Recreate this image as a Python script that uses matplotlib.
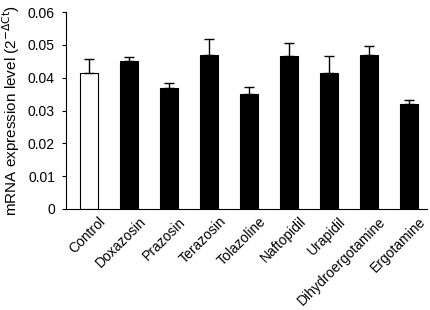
import numpy as np
from matplotlib import pyplot as plt
from matplotlib import transforms

plt.rcParams['font.family'] = ['Liberation Sans', 'DejaVu Sans']

farmacos = ['Control', 'Doxazosin', 'Prazosin', 'Terazosin', 'Tolazoline',
            'Naftopidil', 'Urapidil', 'Dihydroergotamine', 'Ergotamine']
expresion = [0.0415, 0.0451, 0.0369, 0.0470, 0.0350, 0.0466, 0.0415, 0.0470, 0.0320]
error = [0.0042, 0.0011, 0.0015, 0.0048, 0.0021, 0.0040, 0.0051, 0.0027, 0.0011]
colores = ['white'] + ['black'] * 8

fig = plt.figure(figsize=(4.3, 3.1), dpi=100)
ax = fig.add_axes([0.1535, 0.326, 0.8395, 0.635])

x = np.arange(len(farmacos))
ax.bar(x, expresion, width=0.47, color=colores, edgecolor='black', linewidth=0.8,
       yerr=[np.zeros(len(error)), error], error_kw=dict(ecolor='black', elinewidth=1.0,
                                                         capsize=3.5, capthick=1.0))

ax.set_xlim(-0.575, 8.45)
ax.set_ylim(0, 0.06)
ax.set_yticks([0, 0.01, 0.02, 0.03, 0.04, 0.05, 0.06])
ax.set_yticklabels(['0', '0.01', '0.02', '0.03', '0.04', '0.05', '0.06'])
ax.set_xticks(x)
ax.set_xticklabels(farmacos, rotation=45, ha='right', rotation_mode='anchor')
ax.tick_params(axis='x', length=0, labelsize=10, pad=4)
ax.tick_params(axis='y', length=3, labelsize=10, width=0.8, pad=5)
ax.set_ylabel(r'mRNA expression level (2$^{-\Delta\mathrm{Ct}}$)', fontsize=11, labelpad=4)
ax.spines['top'].set_visible(False)
ax.spines['right'].set_visible(False)
ax.spines['left'].set_linewidth(0.8)
ax.spines['bottom'].set_linewidth(0.8)

# desplazar las etiquetas un poco a la derecha como en la figura original
desplazamiento = transforms.ScaledTranslation(7 / 72, 0, fig.dpi_scale_trans)
for etiqueta in ax.get_xticklabels():
    etiqueta.set_transform(etiqueta.get_transform() + desplazamiento)

fig.savefig('out.png', dpi=100)
